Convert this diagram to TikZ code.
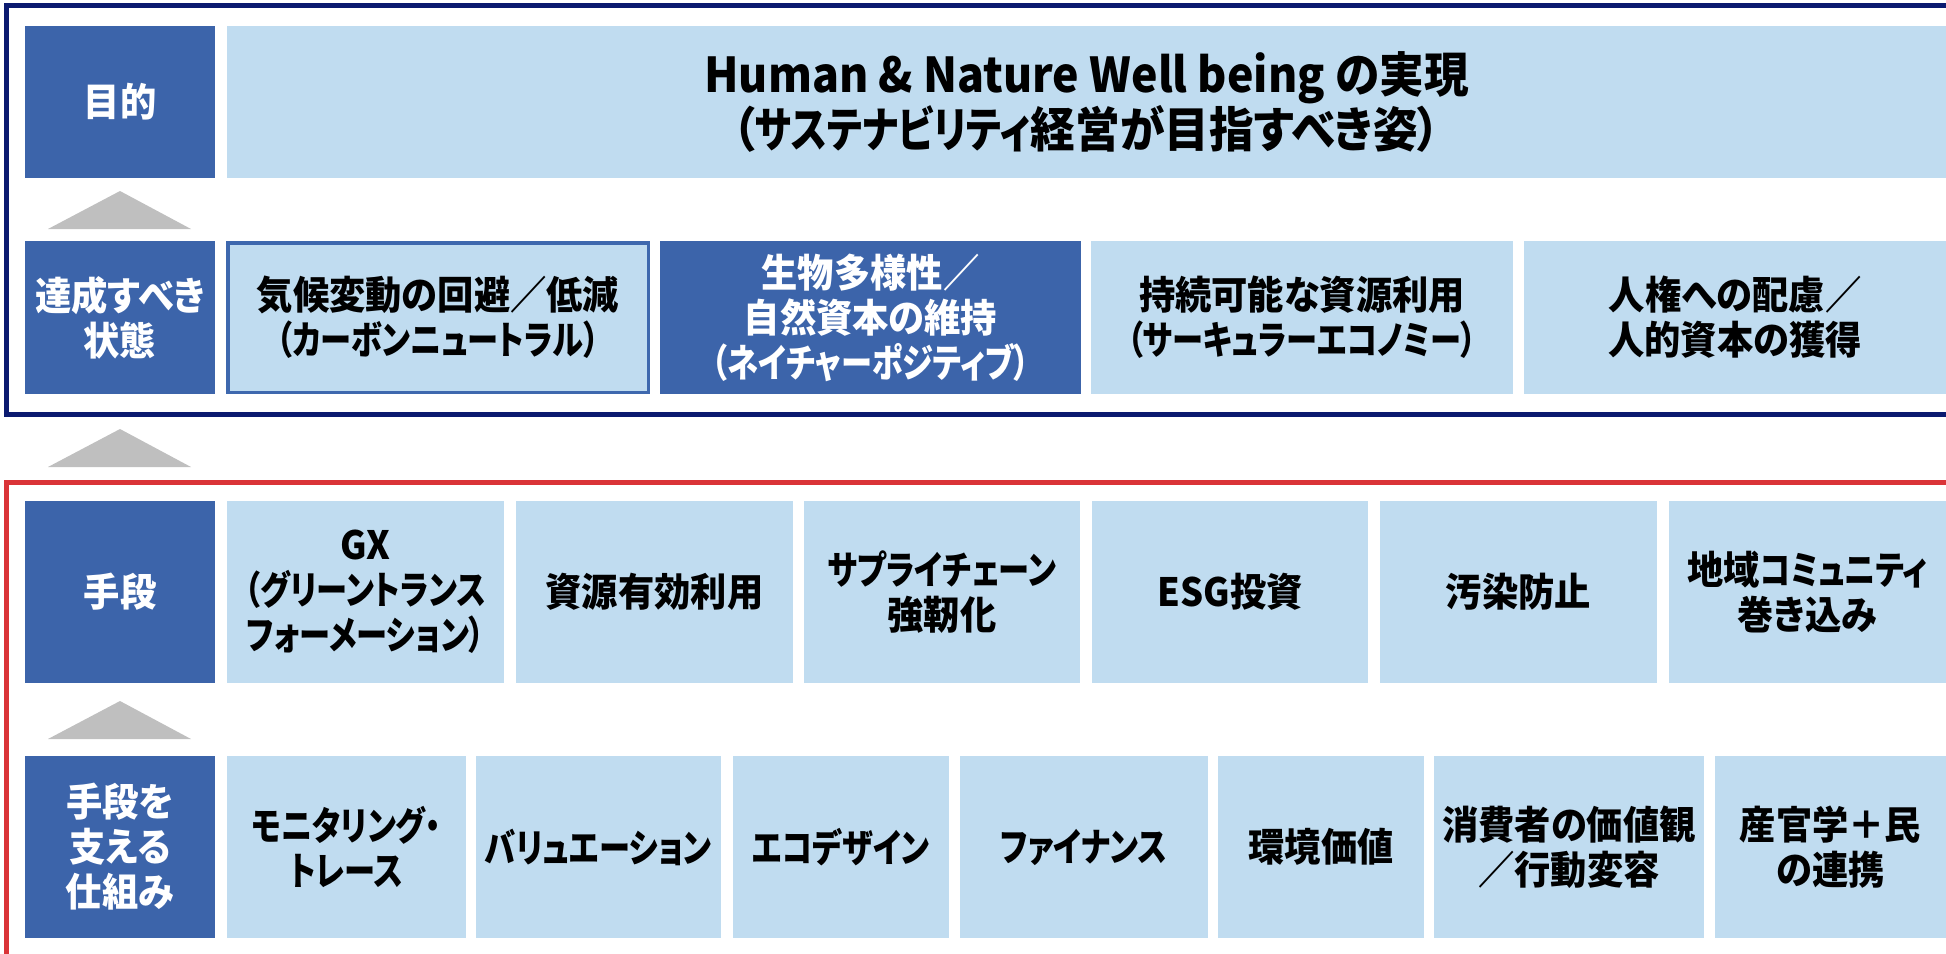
\documentclass[tikz,border=0pt]{standalone}
\usepackage{fontspec}
\setmainfont{Noto Sans CJK JP}[RawFeature=+palt, FakeStretch=0.93]
\newfontfamily\kana{Noto Sans CJK JP}[RawFeature=+palt, FakeStretch=0.80]
\definecolor{dk}{HTML}{3C64AA}
\definecolor{lt}{HTML}{C0DCF0}
\definecolor{navy}{HTML}{0B1A70}
\definecolor{rd}{HTML}{DA3438}
\definecolor{tri}{HTML}{BFBFBF}
\definecolor{bd}{HTML}{3E68AE}
\newcommand\bx[7]{%
  \pgfmathsetmacro\bw{(#4-#2)*0.5}%
  \pgfmathsetmacro\bh{(#5-#3)*0.5}%
  \node[#6, minimum width=\bw pt, minimum height=\bh pt] (#1) at ({(#2+#4)/2},{(#3+#5)/2}) {#7};}
\newcommand\kn[1]{{\kana\bfseries #1}}
\begin{document}
\begin{tikzpicture}[x=0.5pt,y=-0.5pt,
  base/.style={inner sep=0pt, outer sep=0pt, align=center,
    font=\bfseries\fontsize{19.5pt}{22.5pt}\selectfont},
  lab/.style={base, fill=dk, text=white},
  cell/.style={base, fill=lt, text=black},
  dcell/.style={base, fill=dk, text=white},
  bcell/.style={base, fill=lt, draw=bd, line width=1.75pt, text=black},
  titlecell/.style={cell, font=\bfseries\fontsize{24pt}{27.5pt}\selectfont},
  arr/.style={fill=tri},
  frameA/.style={draw=navy, line width=2.5pt},
  frameB/.style={draw=rd, line width=2.5pt}]
\useasboundingbox (0,0) rectangle (1946,953);
\clip (0,0) rectangle (1946,953);
\draw[frameA] (6,5.5) rectangle (1975,414);
\draw[frameB] (6,482.5) rectangle (1975,995);
% row 1
\bx{purpose}{25}{26}{215}{178}{lab}{目的}
\bx{goal}{227}{26}{1946}{178}{titlecell}{Human \& Nature Well being の実現\\（\kn{サステナビリティ}経営が目指すべき姿）}
\fill[arr] (48,229) -- (120,191) -- (191,229) -- cycle;
% row 2
\bx{state}{25}{241}{215}{394}{lab}{達成すべき\\状態}
\bx{s1}{227.75}{242.75}{648.25}{392.25}{bcell}{気候変動の回避／低減\\\kn{（カーボンニュートラル）}}
\bx{s2}{660}{241}{1081}{394}{dcell}{生物多様性／\\自然資本の維持\\\kn{（ネイチャーポジティブ）}}
\bx{s3}{1091}{241}{1513}{394}{cell}{持続可能な資源利用\\\kn{（サーキュラーエコノミー）}}
\bx{s4}{1524}{241}{1946}{394}{cell}{人権への配慮／\\人的資本の獲得}
\fill[arr] (48,467) -- (120,429) -- (191,467) -- cycle;
% row 3
\bx{means}{25}{501}{215}{683}{lab}{手段}
\bx{m1}{227}{501}{504}{683}{cell}{GX\\\kn{（グリーントランス}\\\kn{フォーメーション）}}
\bx{m2}{516}{501}{793}{683}{cell}{資源有効利用}
\bx{m3}{804}{501}{1080}{683}{cell}{\kn{サプライチェーン}\\強靭化}
\bx{m4}{1092}{501}{1368}{683}{cell}{ESG投資}
\bx{m5}{1380}{501}{1657}{683}{cell}{汚染防止}
\bx{m6}{1669}{501}{1946}{683}{cell}{地域\kn{コミュニティ}\\巻き込み}
\fill[arr] (48,739) -- (120,701) -- (191,739) -- cycle;
% row 4
\bx{support}{25}{756}{215}{938}{lab}{手段を\\支える\\仕組み}
\bx{b1}{227}{756}{466}{938}{cell}{\kn{モニタリング・}\\\kn{トレース}}
\bx{b2}{476}{756}{721}{938}{cell}{\kn{バリュエーション}}
\bx{b3}{733}{756}{949}{938}{cell}{\kn{エコデザイン}}
\bx{b4}{960}{756}{1208}{938}{cell}{\kn{ファイナンス}}
\bx{b5}{1218}{756}{1424}{938}{cell}{環境価値}
\bx{b6}{1434}{756}{1704}{938}{cell}{消費者の価値観\\／行動変容}
\bx{b7}{1715}{756}{1946}{938}{cell}{産官学＋民\\の連携}
\end{tikzpicture}
\end{document}
